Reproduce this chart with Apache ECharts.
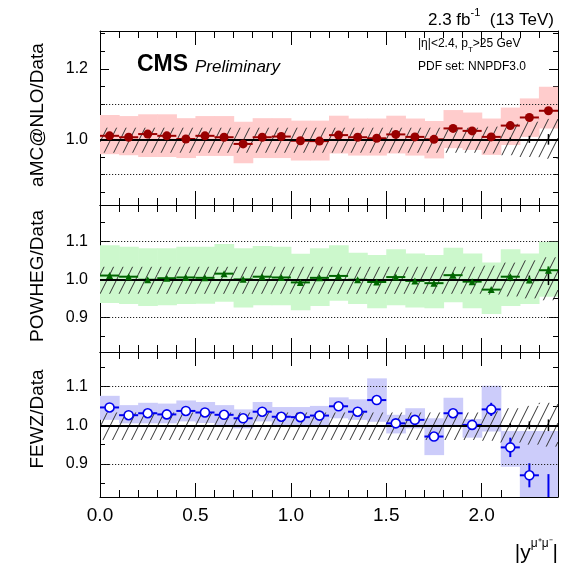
<!DOCTYPE html>
<html>
<head>
<meta charset="utf-8">
<script src="https://cdn.jsdelivr.net/npm/echarts@6/dist/echarts.min.js"></script>
<style>html,body{margin:0;padding:0;background:#fff;}#chart{width:569px;height:566px;}</style>
</head>
<body>
<div id="chart"></div>
<script>
// ---------------- data ----------------
const binCenters = [0.05,0.15,0.25,0.35,0.45,0.55,0.65,0.75,0.85,0.95,1.05,1.15,1.25,1.35,1.45,1.55,1.65,1.75,1.85,1.95,2.05,2.15,2.25,2.35];
const binWidth = 0.1;

const amcVal    = [1.010,1.006,1.015,1.010,1.001,1.010,1.006,0.987,1.006,1.008,0.996,0.995,1.012,1.006,1.003,1.014,1.007,1.000,1.031,1.024,1.007,1.039,1.062,1.081];
const amcErr    = [0.004,0.004,0.004,0.004,0.004,0.004,0.004,0.004,0.004,0.004,0.004,0.004,0.004,0.004,0.004,0.004,0.004,0.004,0.005,0.005,0.005,0.006,0.008,0.010];
const amcBandLo = [0.958,0.955,0.950,0.950,0.947,0.953,0.953,0.932,0.947,0.947,0.940,0.940,0.960,0.954,0.954,0.960,0.954,0.946,0.975,0.970,0.956,0.984,1.007,1.031];
const amcBandHi = [1.069,1.066,1.071,1.071,1.060,1.066,1.066,1.050,1.060,1.060,1.053,1.053,1.067,1.059,1.059,1.067,1.059,1.052,1.083,1.076,1.059,1.090,1.116,1.149];

const powVal    = [1.010,1.007,0.999,1.003,1.005,1.004,1.015,1.000,1.007,1.005,0.992,1.004,1.009,0.999,0.993,1.006,0.996,0.990,1.011,0.994,0.973,1.007,0.998,1.024];
const powErr    = [0.003,0.003,0.003,0.003,0.003,0.003,0.003,0.003,0.003,0.003,0.003,0.003,0.003,0.003,0.003,0.003,0.003,0.003,0.004,0.004,0.004,0.005,0.007,0.010];
const powBandLo = [0.938,0.935,0.930,0.932,0.935,0.936,0.941,0.926,0.932,0.932,0.919,0.930,0.944,0.935,0.924,0.932,0.926,0.924,0.940,0.924,0.909,0.930,0.935,0.954];
const powBandHi = [1.090,1.086,1.082,1.082,1.086,1.086,1.093,1.082,1.088,1.086,1.067,1.082,1.090,1.070,1.064,1.079,1.068,1.064,1.083,1.068,1.044,1.079,1.068,1.099];

const fewzVal    = [1.046,1.026,1.031,1.028,1.037,1.033,1.027,1.018,1.035,1.022,1.021,1.025,1.049,1.035,1.065,1.005,1.014,0.971,1.031,1.001,1.041,0.943,0.871,0.780];
const fewzErr    = [0.004,0.004,0.004,0.004,0.004,0.004,0.004,0.004,0.004,0.004,0.004,0.004,0.005,0.005,0.005,0.006,0.006,0.007,0.007,0.012,0.017,0.025,0.031,0.094];
const fewzBandLo = [1.014,1.005,1.005,1.005,1.010,1.006,1.000,0.992,1.010,1.000,1.000,1.000,1.018,1.014,1.009,0.979,0.992,0.923,0.996,0.968,0.984,0.893,0.780,0.780];
const fewzBandHi = [1.076,1.052,1.058,1.056,1.064,1.060,1.052,1.041,1.060,1.047,1.047,1.050,1.072,1.067,1.121,1.027,1.044,1.018,1.071,1.016,1.102,0.985,0.985,0.985];

// data uncertainty band (hatched) and data stat error around 1
const dataUncLo = [0.962,0.962,0.962,0.962,0.962,0.962,0.962,0.962,0.962,0.962,0.962,0.962,0.962,0.962,0.962,0.962,0.962,0.962,0.962,0.962,0.960,0.955,0.950,0.945];
const dataUncHi = [1.033,1.033,1.033,1.033,1.033,1.033,1.033,1.033,1.033,1.033,1.033,1.033,1.033,1.033,1.033,1.033,1.033,1.033,1.033,1.033,1.036,1.044,1.050,1.058];
const dataStatErr = [0,0,0,0,0,0,0,0,0,0,0,0,0,0,0,0,0,0,0,0,0,0.005,0.010,0.015];

// axes
const xMajorTicks = [0.0,0.5,1.0,1.5,2.0];
const xMinorTicks = [0.1,0.2,0.3,0.4,0.6,0.7,0.8,0.9,1.1,1.2,1.3,1.4,1.6,1.7,1.8,1.9,2.1,2.2,2.3];
const xRange = [0, 2.4];
const yRange = [[0.814,1.307],[0.809,1.1955],[0.815,1.189]];
const yMajorTicks = [[1.0,1.2],[0.9,1.0,1.1],[0.9,1.0,1.1]];
const yMinorTicks = [[0.85,0.9,0.95,1.05,1.1,1.15,1.25,1.3],[0.85,0.95,1.05,1.15],[0.85,0.95,1.05,1.15]];
const yLabels = [[1.0,1.2],[0.9,1.0,1.1],[0.9,1.0,1.1]];
const solidLines = [1.0];
const dottedLines = [0.9,1.1];
const yTitles = ['aMC@NLO/Data','POWHEG/Data','FEWZ/Data'];

// ---------------- layout / style ----------------
const FONT = '"Liberation Sans", Arial, Helvetica, sans-serif';
const panels = [
  {top:31, height:174, val:amcVal, err:amcErr, lo:amcBandLo, hi:amcBandHi, band:'#ffcccc', color:'#990000', mark:'circle', size:9, fill:'#990000', titleY:115},
  {top:205, height:147, val:powVal, err:powErr, lo:powBandLo, hi:powBandHi, band:'#ccf8cc', color:'#006600', mark:'triangle', size:7, fill:'#006600', titleY:276},
  {top:352, height:145, val:fewzVal, err:fewzErr, lo:fewzBandLo, hi:fewzBandHi, band:'#ccccfa', color:'#0000ee', mark:'circle', size:9, fill:'#ffffff', titleY:419}
];

const grids = panels.map(p => ({left:100, right:11, top:p.top, height:p.height, show:false}));

const xAxes = [], yAxes = [];
panels.forEach((p, i) => {
  const mk = (pos, ticks, len, line, labels) => ({
    type:'value', gridIndex:i, position:pos, min:xRange[0], max:xRange[1],
    axisLine:{show:line, onZero:false, lineStyle:{color:'#000', width:1}},
    axisTick:{show:true, inside:true, length:len, customValues:ticks, lineStyle:{color:'#000', width:1}},
    axisLabel: labels ? {show:true, customValues:xMajorTicks, formatter:v=>v.toFixed(1), fontSize:19, color:'#000', margin:9, fontFamily:FONT} : {show:false},
    splitLine:{show:false}
  });
  xAxes.push(mk('bottom', xMajorTicks, 14, true, i === 2));
  xAxes.push(mk('bottom', xMinorTicks, 7, false, false));
  xAxes.push(mk('top', xMajorTicks, 14, true, false));
  xAxes.push(mk('top', xMinorTicks, 7, false, false));
  const mky = (pos, ticks, len, line, labels) => ({
    type:'value', gridIndex:i, position:pos, min:yRange[i][0], max:yRange[i][1],
    axisLine:{show:line, onZero:false, lineStyle:{color:'#000', width:1}},
    axisTick:{show:true, inside:true, length:len, customValues:ticks, lineStyle:{color:'#000', width:1}},
    axisLabel: labels ? {show:true, customValues:yLabels[i], formatter:v=>v.toFixed(1), fontSize:16, color:'#000', margin:12, fontFamily:FONT} : {show:false},
    splitLine:{show:false}
  });
  yAxes.push(mky('left', yMajorTicks[i], 9, true, true));
  yAxes.push(mky('left', yMinorTicks[i], 5, false, false));
  yAxes.push(mky('right', yMajorTicks[i], 9, true, false));
  yAxes.push(mky('right', yMinorTicks[i], 5, false, false));
});

function bandRender(color){
  return (params, api) => {
    const c = api.value(0);
    const a = api.coord([c - binWidth/2, api.value(2)]);
    const b = api.coord([c + binWidth/2, api.value(1)]);
    return {type:'rect', shape:{x:a[0], y:a[1], width:b[0]-a[0]+0.6, height:b[1]-a[1]}, style:{fill:color}};
  };
}
function hatchRender(params, api){
  const c = api.value(0);
  const a = api.coord([c - binWidth/2, api.value(2)]);
  const b = api.coord([c + binWidth/2, api.value(1)]);
  const L = a[0], R = b[0], T = a[1], B = b[1];
  const s = 0.5, sp = 9.5;
  const kids = [];
  const k0 = Math.ceil((L + s*T)/sp), k1 = Math.floor((R + s*B)/sp);
  for (let k = k0; k <= k1; k++) {
    const cc = k*sp;
    const y1 = Math.max(T, (cc - R)/s), y2 = Math.min(B, (cc - L)/s);
    if (y2 <= y1) continue;
    kids.push({type:'line', shape:{x1:cc - s*y1, y1:y1, x2:cc - s*y2, y2:y2}, style:{stroke:'#333', lineWidth:1}});
  }
  return {type:'group', children:kids};
}
function errRender(color, lw, horiz){
  return (params, api) => {
    const c = api.value(0), v = api.value(1), e = api.value(2);
    const kids = [];
    if (horiz) {
      const l = api.coord([c - binWidth/2, v]), r = api.coord([c + binWidth/2, v]);
      kids.push({type:'line', shape:{x1:l[0], y1:l[1], x2:r[0], y2:r[1]}, style:{stroke:color, lineWidth:lw}});
    }
    if (e > 0) {
      const t = api.coord([c, v + e]), bt = api.coord([c, v - e]);
      kids.push({type:'line', shape:{x1:t[0], y1:t[1], x2:bt[0], y2:bt[1]}, style:{stroke:color, lineWidth:lw}});
    }
    return {type:'group', children:kids};
  };
}

const series = [];
panels.forEach((p, i) => {
  const xi = 4*i, yi = 4*i;
  series.push({type:'custom', xAxisIndex:xi, yAxisIndex:yi, clip:true, silent:true, z:1,
    data: binCenters.map((c,k) => [c, p.lo[k], p.hi[k]]), renderItem: bandRender(p.band)});
  series.push({type:'custom', xAxisIndex:xi, yAxisIndex:yi, clip:true, silent:true, z:2,
    data: binCenters.map((c,k) => [c, dataUncLo[k], dataUncHi[k]]), renderItem: hatchRender});
  series.push({type:'line', xAxisIndex:xi, yAxisIndex:yi, data:[], silent:true, z:3,
    markLine:{symbol:'none', silent:true, animation:false, label:{show:false},
      data: solidLines.map(v => ({yAxis:v, lineStyle:{color:'#000', width:2, type:'solid'}}))
        .concat(dottedLines.map(v => ({yAxis:v, lineStyle:{color:'#222', width:1.2, type:[1.2,1.8]}})))}});
  series.push({type:'custom', xAxisIndex:xi, yAxisIndex:yi, clip:true, silent:true, z:3,
    data: binCenters.map((c,k) => [c, 1.0, dataStatErr[k]]), renderItem: errRender('#000', 1.5, false)});
  series.push({type:'custom', xAxisIndex:xi, yAxisIndex:yi, clip:true, silent:true, z:4,
    data: binCenters.map((c,k) => [c, p.val[k], p.err[k]]), renderItem: errRender(p.color, 2, true)});
  series.push({type:'scatter', xAxisIndex:xi, yAxisIndex:yi, clip:true, silent:true, z:5,
    symbol:p.mark, symbolSize:p.size,
    itemStyle: i === 2 ? {color:'#fff', borderColor:p.color, borderWidth:1.6, opacity:1} : {color:p.fill, opacity:1},
    data: binCenters.map((c,k) => [c, p.val[k]])});
});

const graphic = [
  {type:'text', x:554, y:18, style:{text:'{a|2.3 fb}{s|-1}{a|  (13 TeV)}', align:'right', verticalAlign:'middle',
    rich:{a:{fontSize:17, fontFamily:FONT, fill:'#000', lineHeight:22, verticalAlign:'bottom'}, s:{fontSize:11, fontFamily:FONT, fill:'#000', lineHeight:12, verticalAlign:'top'}}}},
  {type:'text', x:137, y:65, style:{text:'CMS', fontSize:23, fontWeight:'bold', fontFamily:FONT, fill:'#000', align:'left', verticalAlign:'middle'}},
  {type:'text', x:195, y:67, style:{text:'Preliminary', fontSize:17, fontStyle:'italic', fontFamily:FONT, fill:'#000', align:'left', verticalAlign:'middle'}},
  {type:'text', x:418, y:46, style:{text:'{a||η|<2.4, p}{b|T}{a|>25 GeV}', align:'left', verticalAlign:'middle',
    rich:{a:{fontSize:12, fontFamily:FONT, fill:'#000', lineHeight:16, verticalAlign:'top'}, b:{fontSize:8, fontFamily:FONT, fill:'#000', lineHeight:10, verticalAlign:'bottom'}}}},
  {type:'text', x:418, y:67, style:{text:'PDF set: NNPDF3.0', fontSize:12, fontFamily:FONT, fill:'#000', align:'left', verticalAlign:'middle'}},
  {type:'text', x:558, y:551, style:{text:'{a||y}{s|μ⁺μ⁻}{a||}', align:'right', verticalAlign:'middle',
    rich:{a:{fontSize:21, fontFamily:FONT, fill:'#000', lineHeight:26, verticalAlign:'bottom'}, s:{fontSize:12, fontFamily:FONT, fill:'#000', lineHeight:14, verticalAlign:'top'}}}}
].concat(panels.map((p, i) => ({type:'text', x:38, y:p.titleY, rotation:Math.PI/2,
  style:{text:yTitles[i], fontSize:19, fontFamily:FONT, fill:'#000', align:'center', verticalAlign:'middle'}})));

const chart = echarts.init(document.getElementById('chart'), null, {renderer:'canvas'});
chart.setOption({
  animation:false,
  backgroundColor:'#fff',
  textStyle:{fontFamily:FONT},
  grid:grids, xAxis:xAxes, yAxis:yAxes, series:series, graphic:graphic
});
</script>
</body>
</html>
